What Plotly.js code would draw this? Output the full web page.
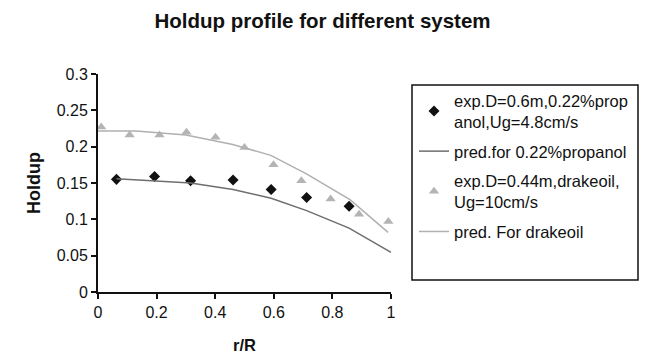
<!DOCTYPE html>
<html>
<head>
<meta charset="utf-8">
<script src="https://cdn.plot.ly/plotly-3.0.1.min.js"></script>
<style>html,body{margin:0;padding:0;background:#fff;}#chart{width:649px;height:355px;}</style>
</head>
<body>
<div id="chart"></div>
<script>
// Experimental data: D=0.6 m, 0.22% propanol, Ug=4.8 cm/s
const propExpX = [0.063, 0.193, 0.316, 0.461, 0.591, 0.712, 0.857, 1.003];
const propExpY = [0.155, 0.159, 0.153, 0.154, 0.141, 0.130, 0.118, 0.100];
// Prediction for 0.22% propanol
const propPredX = [0.063, 0.19, 0.316, 0.461, 0.591, 0.712, 0.857, 1.0];
const propPredY = [0.1557, 0.153, 0.150, 0.141, 0.129, 0.112, 0.088, 0.0545];
// Experimental data: D=0.44 m, drakeoil, Ug=10 cm/s
const drakeExpX = [0.011, 0.108, 0.21, 0.302, 0.401, 0.5, 0.599, 0.694, 0.794, 0.891, 0.991];
const drakeExpY = [0.227, 0.216, 0.216, 0.220, 0.213, 0.199, 0.175, 0.153, 0.128, 0.107, 0.097];
// Prediction for drakeoil
const drakePredX = [0, 0.13, 0.3, 0.46, 0.59, 0.71, 0.86, 0.99];
const drakePredY = [0.2217, 0.2217, 0.216, 0.203, 0.188, 0.163, 0.127, 0.082];

const legendNames = [
  "exp.D=0.6m,0.22%prop<br>anol,Ug=4.8cm/s",
  "pred.for 0.22%propanol",
  "exp.D=0.44m,drakeoil,<br>Ug=10cm/s",
  "pred. For drakeoil"
];
const titleText = "Holdup profile for different system";
const xTitle = "r/R";
const yTitle = "Holdup";

const FONT = "Liberation Sans, Arial, sans-serif";

const traces = [
  {x: propExpX, y: propExpY, name: legendNames[0], mode: "markers", type: "scatter",
   marker: {symbol: "diamond", color: "#111111", size: 8.5}, legendgroup: "a", cliponaxis: false},
  {x: propPredX, y: propPredY, name: legendNames[1], mode: "lines", type: "scatter",
   line: {color: "#6e6e6e", width: 1.5}, legendgroup: "b", cliponaxis: false},
  {x: drakeExpX, y: drakeExpY, name: legendNames[2], mode: "markers", type: "scatter",
   marker: {symbol: "triangle-up", color: "#b4b4b4", size: 9}, legendgroup: "c", cliponaxis: false},
  {x: drakePredX, y: drakePredY, name: legendNames[3], mode: "lines", type: "scatter",
   line: {color: "#b0b0b0", width: 1.5}, legendgroup: "d", cliponaxis: false}
];

const layout = {
  width: 649, height: 355,
  margin: {l: 98, r: 258, t: 74, b: 63, pad: 0},
  paper_bgcolor: "#ffffff", plot_bgcolor: "#ffffff",
  font: {family: FONT, color: "#111111", size: 16},
  title: {text: "<b>" + titleText + "</b>", font: {family: FONT, size: 20.5, color: "#111111"},
          x: 0.497, xanchor: "center", xref: "container", y: 1 - 21/355, yanchor: "middle", yref: "container"},
  xaxis: {range: [0, 1], dtick: 0.2, tick0: 0, showgrid: false, zeroline: false,
          showline: true, linecolor: "#111111", linewidth: 2, ticks: "outside", ticklen: 5,
          tickwidth: 2, tickcolor: "#111111", tickfont: {size: 16},
          title: {text: "<b>" + xTitle + "</b>", font: {size: 16.5}, standoff: 19}},
  yaxis: {range: [0, 0.3], dtick: 0.05, tick0: 0, showgrid: false, zeroline: false,
          showline: true, linecolor: "#111111", linewidth: 2, ticks: "outside", ticklen: 5,
          tickwidth: 2, tickcolor: "#111111", tickfont: {size: 16},
          title: {text: "<b>" + yTitle + "</b>", font: {size: 18}, standoff: 11}},
  showlegend: true,
  legend: {x: (414 - 98) / 293, xanchor: "left", y: (292 - 83) / 218, yanchor: "top",
           xref: "paper", yref: "paper", borderwidth: 0, bgcolor: "rgba(0,0,0,0)",
           font: {size: 16.5, family: FONT}, traceorder: "grouped", tracegroupgap: 5,
           itemwidth: 30},
  shapes: [
    {type: "rect", xref: "paper", yref: "paper",
     x0: (412 - 98) / 293, x1: (638 - 98) / 293, y0: (292 - 280) / 218, y1: (292 - 85) / 218,
     line: {color: "#111111", width: 1.5}, fillcolor: "rgba(0,0,0,0)", layer: "below"}
  ]
};

Plotly.newPlot("chart", traces, layout, {displayModeBar: false, staticPlot: true});
</script>
</body>
</html>
